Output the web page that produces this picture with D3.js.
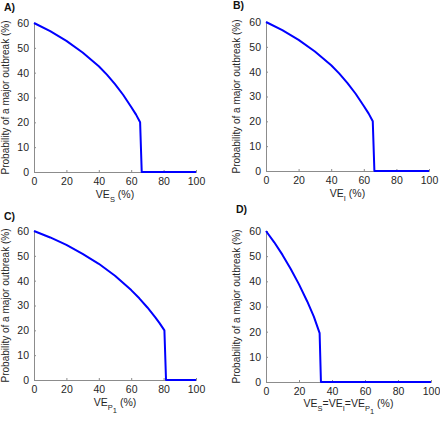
<!DOCTYPE html>
<html><head><meta charset="utf-8">
<script src="https://cdn.jsdelivr.net/npm/d3@7"></script>
<style>body{margin:0;background:#fff}svg{display:block;font-family:"Liberation Sans",Arial,sans-serif}</style>
</head><body>
<svg id="c" width="440" height="421"></svg>
<script>
// Panel A: VE_S
const veA = [0, 10, 20, 30, 40, 45, 50, 55, 60, 63, 65.5, 66.5, 100];
const pA  = [60, 56.7, 52.8, 48.1, 42.6, 39.2, 35.4, 31.1, 26.2, 23.1, 20.0, 0, 0];
// Panel B: VE_I
const veB = [0, 10, 20, 30, 40, 45, 50, 55, 60, 63, 65.5, 66.5, 100];
const pB  = [60, 56.7, 52.8, 48.1, 42.6, 39.2, 35.4, 31.1, 26.2, 23.1, 20.0, 0, 0];
// Panel C: VE_P1
const veC = [0, 10, 20, 30, 40, 50, 60, 65, 70, 75, 77.5, 80.5, 81.5, 100];
const pC  = [60, 57.4, 54.4, 50.8, 46.8, 42.0, 36.2, 32.9, 29.2, 25.1, 22.9, 20.0, 0, 0];
// Panel D: VE_S = VE_I = VE_P1
const veD = [0, 5, 10, 15, 20, 25, 29, 32.5, 33.3, 100];
const pD  = [60, 55.5, 50.5, 44.9, 38.8, 32.0, 26.0, 19.4, 0, 0];

const xTicks = [0, 20, 40, 60, 80, 100];
const yTicks = [0, 10, 20, 30, 40, 50, 60];
const yTitle = "Probability of a major outbreak (%)";
const panelLabels = ["A)", "B)", "C)", "D)"];

const panels = [
  {lab: panelLabels[0], ve: veA, p: pA, l: 34, r: 196, t: 23, b: 172, labX: 4, labY: 11, xl: [["VE",0],["S",1],[" (%)",0]], xlY: 198, ytX: 9},
  {lab: panelLabels[1], ve: veB, p: pB, l: 266, r: 429, t: 22, b: 171, labX: 233, labY: 9, xl: [["VE",0],["I",1],[" (%)",0]], xlY: 197, ytX: 240},
  {lab: panelLabels[2], ve: veC, p: pC, l: 34, r: 196, t: 231, b: 380, labX: 4, labY: 220, xl: [["VE",0],["P",1],["1",2],["  (%)",0]], xlY: 406, ytX: 9},
  {lab: panelLabels[3], ve: veD, p: pD, l: 266, r: 431, t: 231, b: 382, labX: 236, labY: 213, xl: [["VE",0],["S",1],["=VE",0],["I",1],["=VE",0],["P",1],["1",2],["  (%)",0]], xlY: 407, ytX: 240}
];

const svg = d3.select("#c");
const axisCol = "#8c8c8c";
const textCol = "#262626";

panels.forEach(P => {
  const x = d3.scaleLinear().domain([0, 100]).range([P.l, P.r]);
  const y = d3.scaleLinear().domain([0, 60]).range([P.b, P.t]);
  const g = svg.append("g");

  const xa = g.append("g").attr("transform", `translate(0,${P.b})`)
    .call(d3.axisBottom(x).tickValues(xTicks).tickSize(-2).tickPadding(6).tickFormat(d3.format("d")));
  const ya = g.append("g").attr("transform", `translate(${P.l},0)`)
    .call(d3.axisLeft(y).tickValues(yTicks).tickSize(-2).tickPadding(5).tickFormat(d3.format("d")));
  [xa, ya].forEach(a => {
    a.select(".domain").attr("stroke", axisCol).attr("stroke-width", 1);
    a.selectAll(".tick line").attr("stroke", axisCol);
    a.selectAll(".tick text").attr("fill", textCol).style("font-size", "10.5px");
  });

  const line = d3.line().x((d, i) => x(P.ve[i])).y(d => y(d)).curve(d3.curveLinear);
  g.append("path").datum(P.p).attr("d", line).attr("fill", "none")
    .attr("stroke", "#0000ff").attr("stroke-width", 2).attr("stroke-linejoin", "round");

  g.append("text").attr("x", P.labX).attr("y", P.labY).text(P.lab)
    .attr("font-weight", "bold").attr("font-size", "10.5px").attr("fill", "#111");

  g.append("text").attr("transform", `translate(${P.ytX},${(P.t + P.b) / 2}) rotate(-90)`)
    .attr("text-anchor", "middle").attr("font-size", "10px").attr("fill", textCol).text(yTitle);

  const xl = g.append("text").attr("x", (P.l + P.r) / 2).attr("y", P.xlY)
    .attr("text-anchor", "middle").attr("font-size", "10.5px").attr("fill", textCol);
  let level = 0;
  P.xl.forEach(([s, lv]) => {
    const shift = (lv - level) * 3.5;
    xl.append("tspan").attr("dy", shift).attr("font-size", lv > 0 ? "7.5px" : "10.5px").text(s);
    level = lv;
  });
});
</script>
</body></html>
